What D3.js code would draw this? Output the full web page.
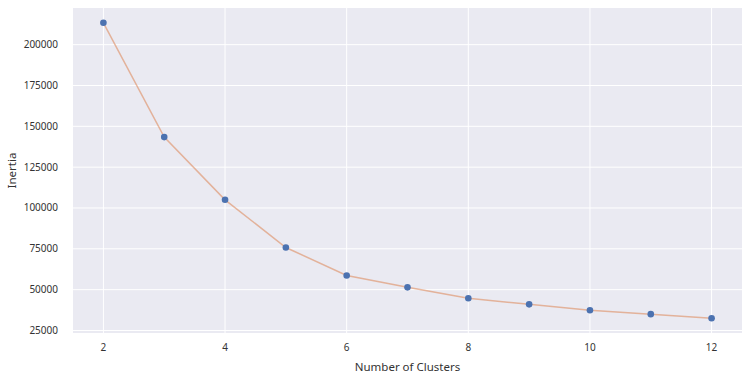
<!DOCTYPE html>
<html lang="ko">
<head>
  <meta charset="UTF-8">
  <title>Elbow</title>
  <script src="https://d3js.org/d3.v7.min.js"></script>
  <style>
    body, html { margin: 0; padding: 0; background: #fff; }
    text { font-family: "Noto Sans", "Noto Sans CJK KR", sans-serif; fill: #333; }
  </style>
</head>
<body>
  <svg id="svg" width="749" height="381"></svg>
  <script>
    const clusters = [2, 3, 4, 5, 6, 7, 8, 9, 10, 11, 12]
    const inertia = [213400, 143400, 105000, 75800, 58700, 51400, 44700, 41000, 37400, 35000, 32500]
    const xTicks = [2, 4, 6, 8, 10, 12]
    const yTicks = [25000, 50000, 75000, 100000, 125000, 150000, 175000, 200000]

    const svg = d3.select("svg")
    const plot = { left: 73, top: 8, right: 742, bottom: 333 }

    const data = clusters.map((c, i) => ({ x: c, y: inertia[i] }))

    // matplotlib-style 5% margins
    const xPad = (d3.max(clusters) - d3.min(clusters)) * 0.05
    const yPad = (d3.max(inertia) - d3.min(inertia)) * 0.05
    const x = d3.scaleLinear()
      .domain([d3.min(clusters) - xPad, d3.max(clusters) + xPad])
      .range([plot.left, plot.right])
    const y = d3.scaleLinear()
      .domain([d3.min(inertia) - yPad, d3.max(inertia) + yPad])
      .range([plot.bottom, plot.top])

    svg.append("rect")
      .attr("x", plot.left).attr("y", plot.top)
      .attr("width", plot.right - plot.left).attr("height", plot.bottom - plot.top)
      .attr("fill", "#eaeaf2")

    // grid
    svg.append("g")
      .selectAll("line")
      .data(xTicks)
      .enter()
      .append("line")
      .attr("x1", d => x(d)).attr("x2", d => x(d))
      .attr("y1", plot.top).attr("y2", plot.bottom)
      .attr("stroke", "#fff").attr("stroke-width", 1)

    svg.append("g")
      .selectAll("line")
      .data(yTicks)
      .enter()
      .append("line")
      .attr("x1", plot.left).attr("x2", plot.right)
      .attr("y1", d => y(d)).attr("y2", d => y(d))
      .attr("stroke", "#fff").attr("stroke-width", 1)

    // tick labels
    svg.append("g")
      .selectAll("text")
      .data(xTicks)
      .enter()
      .append("text")
      .attr("x", d => x(d))
      .attr("y", plot.bottom + 18)
      .attr("text-anchor", "middle")
      .attr("font-size", "10px")
      .text(d => d)

    svg.append("g")
      .selectAll("text")
      .data(yTicks)
      .enter()
      .append("text")
      .attr("x", plot.left - 15)
      .attr("y", d => y(d))
      .attr("dy", "0.35em")
      .attr("text-anchor", "end")
      .attr("font-size", "10px")
      .text(d => d)

    // axis titles
    svg.append("text")
      .attr("x", (plot.left + plot.right) / 2)
      .attr("y", 371)
      .attr("text-anchor", "middle")
      .attr("font-size", "11.5px")
      .text("Number of Clusters")

    svg.append("text")
      .attr("transform", `translate(16, ${(plot.top + plot.bottom) / 2}) rotate(-90)`)
      .attr("text-anchor", "middle")
      .attr("font-size", "11.5px")
      .text("Inertia")

    // line
    const line = d3.line().x(d => x(d.x)).y(d => y(d.y))
    svg.append("path")
      .datum(data)
      .attr("d", line)
      .attr("fill", "none")
      .attr("stroke", "#dd8452")
      .attr("stroke-opacity", 0.55)
      .attr("stroke-width", 1.5)

    // points
    svg.append("g")
      .selectAll("circle")
      .data(data)
      .enter()
      .append("circle")
      .attr("cx", d => x(d.x))
      .attr("cy", d => y(d.y))
      .attr("r", 3.3)
      .attr("fill", "#4c72b0")
  </script>
</body>
</html>
